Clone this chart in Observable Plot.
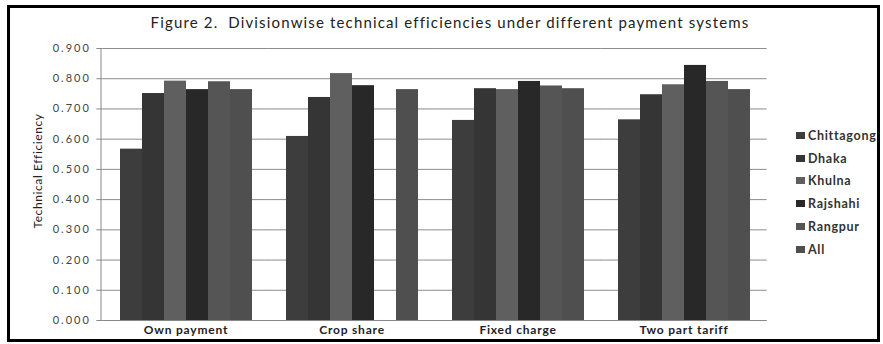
<!DOCTYPE html>
<html>
<head>
<meta charset="utf-8">
<script src="https://cdn.jsdelivr.net/npm/d3@7"></script>
<script src="https://cdn.jsdelivr.net/npm/@observablehq/plot@0.6"></script>
<style>
  html, body { margin: 0; padding: 0; background: #fff; }
  body { width: 883px; height: 344px; position: relative; overflow: hidden; font-family: Lato, "Open Sans", sans-serif; }
  #frame { position: absolute; left: 7px; top: 5px; width: 867px; height: 331px; border: 3px solid #000; }
  #title { position: absolute; left: 0; width: 900px; top: 13px; text-align: center; font-size: 15px; letter-spacing: 1.15px; color: #222; white-space: nowrap; }
  #ylabel { position: absolute; left: 37px; top: 171px; transform: translate(-50%, -50%) rotate(-90deg); font-size: 12px; letter-spacing: 0.6px; color: #222; white-space: nowrap; }
  #chart { position: absolute; left: 0; top: 0; }
  #legend { position: absolute; left: 796px; top: 124px; }
  .item { height: 22.8px; display: flex; align-items: center; font-size: 12.5px; font-weight: bold; letter-spacing: 0.7px; color: #333; }
  .sw { width: 9px; height: 7px; margin-right: 3px; }
</style>
</head>
<body>
<div id="frame"></div>
<div id="title">Figure 2.&nbsp; Divisionwise technical efficiencies under different payment systems</div>
<div id="ylabel">Technical Efficiency</div>
<div id="chart"></div>
<div id="legend"></div>
<script>
// Payment systems (groups) and divisions (bars within each group)
const payments = ["Own payment", "Crop share", "Fixed charge", "Two part tariff"];
const divisions = ["Chittagong", "Dhaka", "Khulna", "Rajshahi", "Rangpur", "All"];

// Technical efficiency per division, one array per payment system (null = no observation)
const ownPayment    = [0.567, 0.751, 0.792, 0.764, 0.790, 0.764];
const cropShare     = [0.609, 0.738, 0.817, 0.777, null,  0.764];
const fixedCharge   = [0.662, 0.767, 0.764, 0.791, 0.776, 0.767];
const twoPartTariff = [0.664, 0.747, 0.780, 0.844, 0.791, 0.764];

const yTicks = [0, 0.1, 0.2, 0.3, 0.4, 0.5, 0.6, 0.7, 0.8, 0.9];
const colors = ["#3d3d3d", "#353535", "#5f5f5f", "#282828", "#555555", "#4f4f4f"];

const series = [ownPayment, cropShare, fixedCharge, twoPartTariff];
const rows = [];
payments.forEach((p, i) => {
  divisions.forEach((d, j) => {
    const v = series[i][j];
    if (v != null) rows.push({payment: p, division: d, value: v});
  });
});

const W = 883, ML = 101, MR = 115;
const padIn = 0.196, padOut = 0.1;
// distance from the plot's left edge to the first group's band
const step = (W - ML - MR) / (payments.length - padIn + 2 * padOut);
const outer = padOut * step;

const chart = Plot.plot({
  width: W,
  height: 344,
  marginTop: 48,
  marginBottom: 24,
  marginLeft: ML,
  marginRight: MR,
  style: {fontFamily: "Lato, 'Open Sans', sans-serif", background: "transparent"},
  fx: {domain: payments, paddingInner: padIn, paddingOuter: padOut, axis: "bottom", label: null, tickSize: 0, tickPadding: 5},
  x: {domain: divisions, padding: 0, axis: null},
  y: {domain: [0, 0.9], ticks: yTicks, tickFormat: d3.format(".3f"), tickSize: 6, tickPadding: 6, label: null},
  color: {domain: divisions, range: colors},
  facet: {data: rows, x: "payment"},
  marks: [
    Plot.ruleY(yTicks, {stroke: "#8c8c8c", strokeWidth: 1, insetLeft: -outer, insetRight: -outer}),
    Plot.barY(rows, {x: "division", y: "value", fill: "division"}),
    Plot.ruleY([0], {stroke: "#888", insetLeft: -outer, insetRight: -outer})
  ]
});
document.getElementById("chart").appendChild(chart);

// the y axis sits on the plot's left edge rather than the first group's band
d3.select(chart).selectAll("g[aria-label^='y-axis']").each(function() {
  const t = this.getAttribute("transform") || "";
  this.setAttribute("transform", `translate(${-outer},0) ${t}`);
});
d3.select(chart).selectAll("g[aria-label^='y-axis'] text")
  .attr("fill", "#444").style("font-size", "11px").style("letter-spacing", "2px");
d3.select(chart).selectAll("g[aria-label^='fx-axis'] text")
  .attr("fill", "#222").style("font-size", "12px").style("font-weight", "bold").style("letter-spacing", "0.8px");
d3.select(chart).selectAll("g[aria-label^='y-axis'] path, g[aria-label^='y-axis'] line")
  .attr("stroke", "#888");

// vertical axis line along the left edge, spanning the y domain
const y = chart.scale("y");
const [y0, y1] = y.domain;
d3.select(chart).append("line")
  .attr("x1", ML).attr("x2", ML)
  .attr("y1", y.apply(y0)).attr("y2", y.apply(y1))
  .attr("stroke", "#888");

// legend
const legend = d3.select("#legend");
divisions.forEach((d, i) => {
  const item = legend.append("div").attr("class", "item");
  item.append("div").attr("class", "sw").style("background", colors[i]);
  item.append("span").text(d);
});
</script>
</body>
</html>
